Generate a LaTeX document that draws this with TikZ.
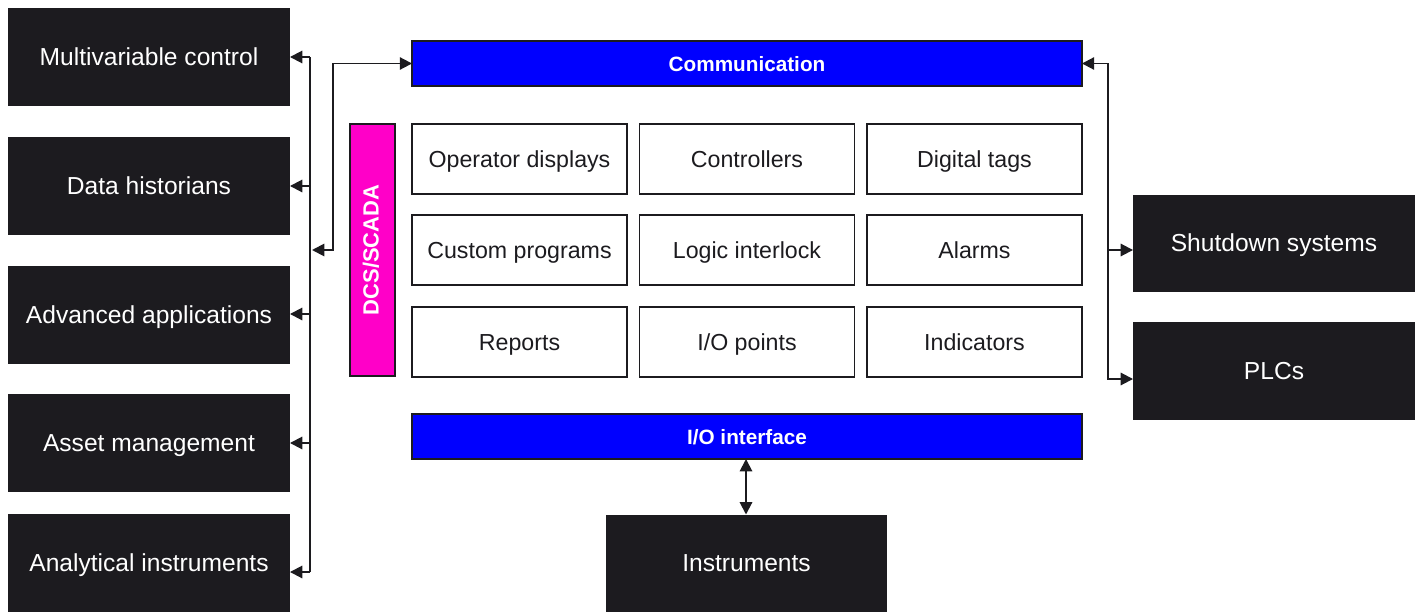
\documentclass[tikz,border=0pt]{standalone}
\usepackage{fontspec}
\setmainfont{Liberation Sans}
\usetikzlibrary{arrows.meta,positioning,calc}
\definecolor{ink}{HTML}{1C1B1F}
\definecolor{busblue}{HTML}{0000FF}
\definecolor{dcspink}{HTML}{FF00C8}

\tikzset{
darkbox/.style={fill=ink,text=white,inner sep=0pt,outer sep=0pt,minimum width=5.64cm,minimum height=1.96cm,text height=0.95em,text depth=0pt,font=\fontsize{14}{16}\selectfont},
cell/.style={draw=ink,line width=1.1pt,fill=white,text=ink,inner sep=0pt,outer sep=0pt,minimum width=4.3cm,minimum height=1.4cm,text height=0.95em,text depth=0pt,font=\fontsize{13.2}{15}\selectfont},
bar/.style={draw=ink,line width=1.1pt,fill=busblue,text=white,inner sep=0pt,outer sep=0pt,minimum width=13.4cm,minimum height=0.9cm,text height=0.95em,text depth=0pt,font=\fontsize{11.8}{14}\selectfont\bfseries},
wire/.style={draw=ink,line width=1.1pt},
arr/.style={wire,-{Triangle[length=7pt,width=7pt]}},
dbl/.style={wire,{Triangle[length=7pt,width=7pt]}-{Triangle[length=7pt,width=7pt]}}
}

\begin{document}
\begin{tikzpicture}[x=0.02cm,y=-0.02cm]
\useasboundingbox (0,0) rectangle (1420,612);

\node[darkbox] (mvc) at (149,57) {Multivariable control};
\node[darkbox] (dh) at (149,186) {Data historians};
\node[darkbox] (aa) at (149,315) {Advanced applications};
\node[darkbox] (am) at (149,443) {Asset management};
\node[darkbox] (ai) at (149,563) {Analytical instruments};

\node[bar] (comm) at (747,63.5) {Communication};
\node[bar] (io) at (747,436.5) {I/O interface};
\node[bar,fill=dcspink,rotate=90,minimum width=5.04cm,minimum height=0.9cm,text height=0.7em,font=\fontsize{12.5}{14}\selectfont\bfseries] (dcs) at (372.5,250) {DCS/SCADA};

\foreach \lbl/\cx/\cy/\nm in {{Operator displays}/519.5/159/opd, {Controllers}/747/159/ctl, {Digital tags}/974.5/159/dtg,
{Custom programs}/519.5/250/cpr, {Logic interlock}/747/250/lgi, {Alarms}/974.5/250/alm,
{Reports}/519.5/342/rep, {I/O points}/747/342/iop, {Indicators}/974.5/342/ind}
{
\node[cell] (\nm) at (\cx,\cy) {\lbl};
}

\node[darkbox,minimum width=5.62cm] (inst) at (746.5,563.5) {Instruments};
\node[darkbox] (sds) at (1274,243.5) {Shutdown systems};
\node[darkbox] (plc) at (1274,371) {PLCs};

\coordinate (lt) at (310,57);
\coordinate (lb) at (310,572);
\draw[wire] (lt) -- (lb);
\foreach \b/\y in {mvc/57,dh/186,aa/314,am/443,ai/572}
{
\coordinate (tap-\b) at (310,\y);
\draw[arr] (tap-\b) -- (\b.east |- tap-\b);
}

\coordinate (lj) at (312,250);
\coordinate (lk) at (333,63.5);
\draw[dbl] (lj) -| (lk) -- (comm.west);

\coordinate (rk) at (1108,63.5);
\coordinate (rm) at (1108,250);
\coordinate (rb) at (1108,379);
\draw[dbl] (comm.east) -- (rk) -- (rb) -- (plc.west |- rb);
\draw[arr] (rm) -- (sds.west |- rm);

\coordinate (ix) at (746,0);
\draw[dbl] (io.south -| ix) -- (inst.north -| ix);

\end{tikzpicture}
\end{document}
